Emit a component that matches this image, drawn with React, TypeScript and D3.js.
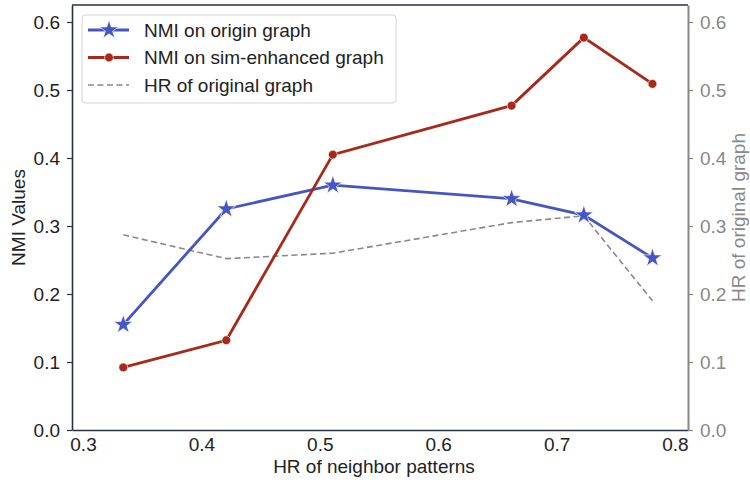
import * as d3 from 'd3'
import { useEffect, useRef } from 'react'

const hrNeighbor = [0.334, 0.421, 0.511, 0.662, 0.723, 0.781]
const nmiOrigin = [0.155, 0.325, 0.36, 0.34, 0.316, 0.253]
const nmiSim = [0.092, 0.132, 0.405, 0.477, 0.577, 0.509]
const hrOriginal = [0.287, 0.252, 0.26, 0.305, 0.315, 0.19]
const xTicks = [0.3, 0.4, 0.5, 0.6, 0.7, 0.8]
const yTicks = [0, 0.1, 0.2, 0.3, 0.4, 0.5, 0.6]
const legendLabels = ['NMI on origin graph', 'NMI on sim-enhanced graph', 'HR of original graph']

const W = 750
const H = 482
const margin = { top: 5, right: 62, bottom: 52, left: 72 }
const width = W - margin.left - margin.right
const height = H - margin.top - margin.bottom

const blue = '#4556c4'
const red = '#a8291a'
const grey = '#888888'
const dark = '#2b3040'
const font = '"Liberation Sans", Arial, sans-serif'
const fs = 19

export default function App() {
  const ref = useRef<SVGSVGElement>(null)

  useEffect(() => {
    const svg = d3.select(ref.current)
    svg.selectAll('*').remove()

    const x = d3.scaleLinear().domain([0.2907, 0.811]).range([0, width])
    const y = d3.scaleLinear().domain([0, 0.625]).range([height, 0])

    const g = svg.append('g').attr('transform', `translate(${margin.left},${margin.top})`)

    // top spine
    g.append('line').attr('x1', 0).attr('x2', width).attr('y1', 0).attr('y2', 0)
      .attr('stroke', dark).attr('stroke-width', 1.6)

    const styleAxis = (sel: any, color: string, textColor: string) => {
      sel.selectAll('text').attr('font-family', font).attr('font-size', fs).attr('fill', textColor)
      sel.selectAll('line').attr('stroke', color).attr('stroke-width', 1.2)
      sel.select('.domain').attr('stroke', color).attr('stroke-width', 1.6)
    }

    const xAxis = g.append('g').attr('transform', `translate(0,${height})`)
      .call(d3.axisBottom(x).tickValues(xTicks).tickFormat(d3.format('.1f')).tickSize(0).tickPadding(8).tickSizeOuter(0))
    styleAxis(xAxis, dark, '#222')

    const yAxis = g.append('g')
      .call(d3.axisLeft(y).tickValues(yTicks).tickFormat(d3.format('.1f')).tickSize(5).tickPadding(7).tickSizeOuter(0))
    styleAxis(yAxis, dark, '#222')
    yAxis.selectAll('text').attr('dy', '0.34em')

    const y2Axis = g.append('g').attr('transform', `translate(${width},0)`)
      .call(d3.axisRight(y).tickValues(yTicks).tickFormat(d3.format('.1f')).tickSize(5).tickPadding(7).tickSizeOuter(0))
    styleAxis(y2Axis, grey, grey)
    y2Axis.selectAll('text').attr('dy', '0.34em')
    y2Axis.select('.domain').attr('stroke-width', 2)
    yAxis.raise()

    const line = d3.line<number>().x((_, i) => x(hrNeighbor[i])).y((d) => y(d))

    g.append('path').datum(hrOriginal).attr('d', line).attr('fill', 'none')
      .attr('stroke', grey).attr('stroke-width', 1.6).attr('stroke-dasharray', '6,3.5')

    g.append('path').datum(nmiOrigin).attr('d', line).attr('fill', 'none')
      .attr('stroke', blue).attr('stroke-width', 2.8)
    g.append('path').datum(nmiSim).attr('d', line).attr('fill', 'none')
      .attr('stroke', red).attr('stroke-width', 2.8)

    const star = d3.symbol().type(d3.symbolStar).size(110)
    g.selectAll('.star').data(nmiOrigin).enter().append('path')
      .attr('transform', (d, i) => `translate(${x(hrNeighbor[i])},${y(d)})`)
      .attr('d', star()).attr('fill', blue).attr('stroke', 'white').attr('stroke-width', 0.6)
    g.selectAll('.dot').data(nmiSim).enter().append('circle')
      .attr('cx', (_, i) => x(hrNeighbor[i])).attr('cy', (d) => y(d)).attr('r', 4.4)
      .attr('fill', red).attr('stroke', 'white').attr('stroke-width', 0.6)

    // axis labels
    svg.append('text').attr('x', margin.left + width / 2 - 6).attr('y', H - 9)
      .attr('text-anchor', 'middle').attr('font-family', font).attr('font-size', fs).attr('fill', '#222')
      .text('HR of neighbor patterns')
    svg.append('text').attr('transform', `translate(25,${margin.top + height / 2}) rotate(-90)`)
      .attr('text-anchor', 'middle').attr('font-family', font).attr('font-size', fs).attr('fill', '#222')
      .text('NMI Values')
    svg.append('text').attr('transform', `translate(745,${margin.top + height / 2}) rotate(-90)`)
      .attr('text-anchor', 'middle').attr('font-family', font).attr('font-size', fs).attr('fill', grey)
      .text('HR of original graph')

    // legend
    const lg = g.append('g').attr('transform', 'translate(10,10)')
    lg.append('rect').attr('width', 314).attr('height', 88).attr('rx', 3)
      .attr('fill', 'white').attr('fill-opacity', 0.85).attr('stroke', '#d4d4d4')
    const colors = [blue, red, grey]
    legendLabels.forEach((label, i) => {
      const ry = 15 + i * 27.5
      const row = lg.append('g').attr('transform', `translate(0,${ry})`)
      row.append('line').attr('x1', 6).attr('x2', 47).attr('y1', 0).attr('y2', 0)
        .attr('stroke', colors[i]).attr('stroke-width', i === 2 ? 1.6 : 2.8)
        .attr('stroke-dasharray', i === 2 ? '6,3.5' : null)
      if (i === 0) row.append('path').attr('d', star()).attr('transform', 'translate(27,0)')
        .attr('fill', blue).attr('stroke', 'white').attr('stroke-width', 0.6)
      if (i === 1) row.append('circle').attr('cx', 27).attr('cy', 0).attr('r', 4.4)
        .attr('fill', red).attr('stroke', 'white').attr('stroke-width', 0.6)
      row.append('text').attr('x', 62).attr('y', 0).attr('dy', '0.35em')
        .attr('font-family', font).attr('font-size', fs).attr('fill', '#222').text(label)
    })
  }, [])

  return (
    <svg ref={ref} width={W} height={H} style={{ position: 'absolute', left: 0, top: 0, background: 'white' }} />
  )
}
